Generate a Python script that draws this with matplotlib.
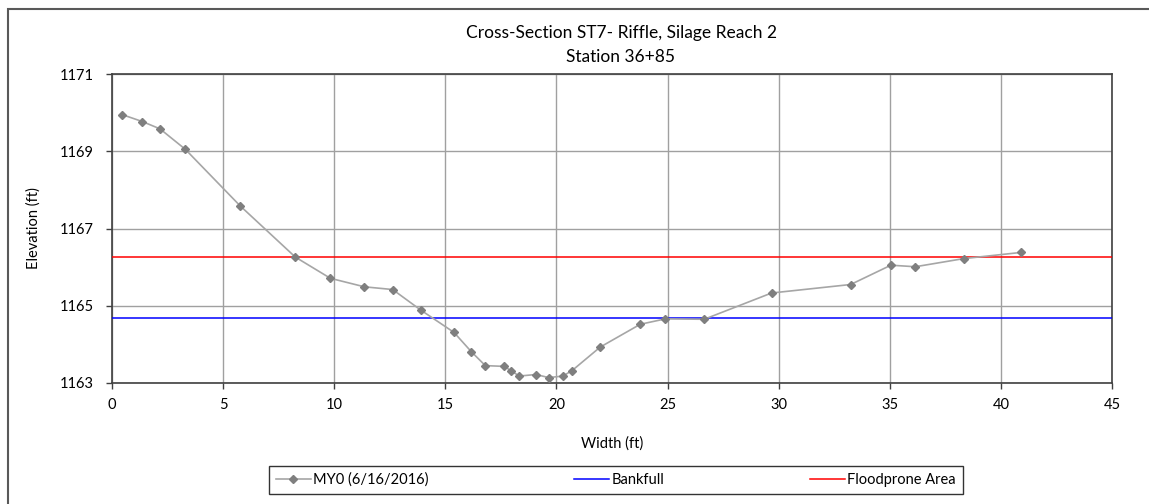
import numpy as np
import matplotlib.pyplot as plt
from matplotlib.patches import Rectangle

width_ft = [0.45, 1.36, 2.16, 3.30, 5.76, 8.25, 9.83, 11.36, 12.63, 13.89,
            15.39, 16.17, 16.80, 17.66, 17.97, 18.33, 19.08, 19.65, 20.29,
            20.70, 21.97, 23.77, 24.90, 26.65, 29.68, 33.24, 35.05, 36.15,
            38.32, 40.90]
elev_ft = [1169.95, 1169.77, 1169.58, 1169.05, 1167.59, 1166.26, 1165.71,
           1165.49, 1165.42, 1164.89, 1164.31, 1163.81, 1163.45, 1163.43,
           1163.31, 1163.18, 1163.22, 1163.14, 1163.18, 1163.32, 1163.93,
           1164.52, 1164.66, 1164.65, 1165.33, 1165.55, 1166.05, 1166.01,
           1166.22, 1166.38]
bankfull = 1164.68
floodprone = 1166.26

x_ticks = [0, 5, 10, 15, 20, 25, 30, 35, 40, 45]
y_ticks = [1163, 1165, 1167, 1169, 1171]

plt.rcParams['font.family'] = ['Lato', 'DejaVu Sans']

W, H = 1149, 504
fig = plt.figure(figsize=(W / 100, H / 100), dpi=100)
ax = fig.add_axes([112 / W, 1 - 383 / H, 1000 / W, 309 / H])

ax.plot(width_ft, elev_ft, color='#a6a6a6', lw=1.2, marker='D', ms=4.5,
        mfc='#7f7f7f', mec='#7f7f7f', label='MY0 (6/16/2016)', zorder=4)
ax.axhline(bankfull, color='#0000ff', lw=1.1, label='Bankfull', zorder=3)
ax.axhline(floodprone, color='#ff0000', lw=1.1, label='Floodprone Area', zorder=3)

ax.set_xlim(0, 45)
ax.set_ylim(1163, 1171)
ax.set_xticks(x_ticks)
ax.set_yticks(y_ticks)
ax.grid(True, color='#a0a0a0', lw=1)
ax.set_axisbelow(True)
for s in ax.spines.values():
    s.set_color('#404040')
    s.set_linewidth(1.2)
ax.tick_params(direction='out', length=4, width=1, colors='#404040',
               labelcolor='black', labelsize=10.5)
ax.tick_params(axis='y', pad=9)
ax.tick_params(axis='x', pad=7)

ax.set_xlabel('Width (ft)', fontsize=10.5, labelpad=17)
ax.set_ylabel('Elevation (ft)', fontsize=10.5, labelpad=14)

fig.text(621 / W, 1 - 33 / H, 'Cross-Section ST7- Riffle, Silage Reach 2',
         ha='center', va='center', fontsize=12.5)
fig.text(621 / W, 1 - 57 / H, 'Station 36+85', ha='center', va='center',
         fontsize=12.5)

leg = fig.legend(loc='center', bbox_to_anchor=(616 / W, 24 / H), ncol=3,
                 fontsize=10.5, frameon=True, fancybox=False, handlelength=2.4,
                 columnspacing=10, handletextpad=0.15, borderpad=0.45,
                 borderaxespad=0)
leg.get_frame().set_edgecolor('black')
leg.get_frame().set_linewidth(1)

fig.add_artist(Rectangle((8 / W, -0.1), 1.5, 1 - 9 / H + 0.1,
                         transform=fig.transFigure, fill=False,
                         edgecolor='#595959', lw=1.5))

fig.savefig('out.png', dpi=100)
